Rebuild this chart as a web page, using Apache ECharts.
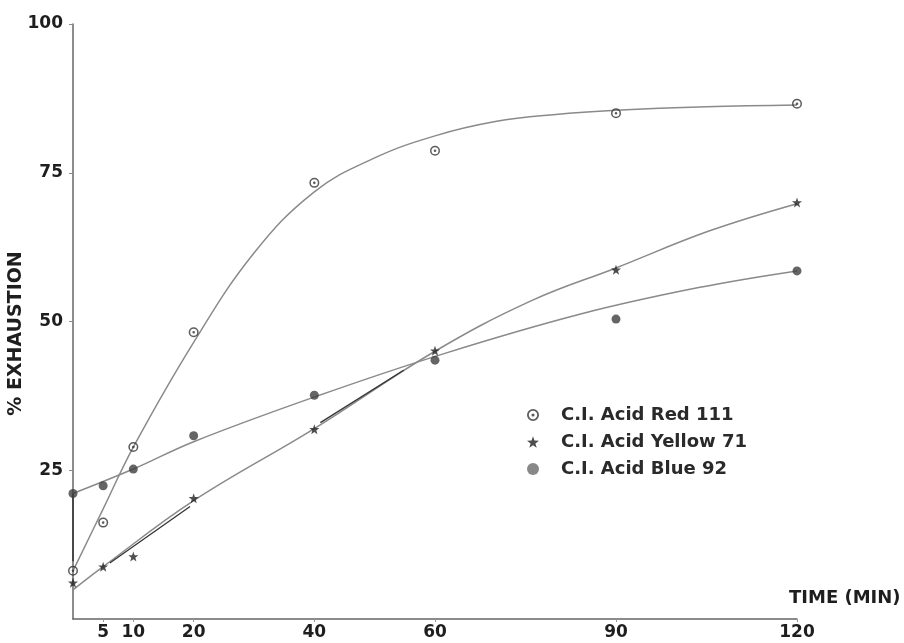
<!DOCTYPE html>
<html>
<head>
<meta charset="utf-8">
<script src="https://cdn.jsdelivr.net/npm/echarts@6/dist/echarts.min.js"></script>
<style>
html,body{margin:0;padding:0;background:#fff;}
#c{width:904px;height:643px;}
</style>
</head>
<body>
<div id="c"></div>
<script>
// ---- data ----
const xTickLabels = [5, 10, 20, 40, 60, 90, 120];
const yTickLabels = [25, 50, 75, 100];
const seriesNames = ['C.I. Acid Red 111', 'C.I. Acid Yellow 71', 'C.I. Acid Blue 92'];

// measured points [time (min), % exhaustion]
const redPoints    = [[0,8.1],[5,16.2],[10,28.9],[20,48.2],[40,73.3],[60,78.7],[90,85.0],[120,86.6]];
const yellowPoints = [[0,6.1],[5,8.8],[10,10.5],[20,20.3],[40,31.9],[60,45.1],[90,58.7],[120,70.0]];
const bluePoints   = [[0,21.1],[5,22.4],[10,25.2],[20,30.8],[40,37.6],[60,43.5],[90,50.4],[120,58.5]];

// hand-drawn fitted curves
const redCurve    = [[0,8.1],[5,18.5],[10,28.9],[20,46.5],[30,61.5],[40,71.8],[50,77.5],[60,81.2],[70,83.6],[80,84.8],[90,85.5],[105,86.1],[120,86.4]];
const yellowCurve = [[0,4.9],[5,8.8],[20,19.9],[40,32.0],[60,45.0],[76,53.5],[90,59.0],[105.4,65.2],[120,69.8]];
const blueCurve   = [[0,21.1],[10,25.2],[20,29.8],[40,37.3],[61.5,44.6],[84.3,51.3],[103.7,55.7],[120,58.5]];
const blueDrop    = [[0,9.7],[0,21.1]];
const yellowDark1 = [[6.1,9.4],[19.4,18.9]];
const yellowDark2 = [[41,33.0],[54.8,41.8]];

// ---- symbols ----
const ringDot = 'path://M0,-10 A10,10 0 1,1 0,10 A10,10 0 1,1 0,-10 Z M0,-7 A7,7 0 1,0 0,7 A7,7 0 1,0 0,-7 Z M0,-2.6 A2.6,2.6 0 1,1 0,2.6 A2.6,2.6 0 1,1 0,-2.6 Z';
const star = 'path://M0,-10 L2.35,-3.24 L9.51,-3.09 L3.80,1.24 L5.88,8.09 L0,4 L-5.88,8.09 L-3.80,1.24 L-9.51,-3.09 L-2.35,-3.24 Z';

const FONT = 'DejaVu Sans';
const TXT = '#1e1e1e';
const LINE = '#8a8a8a';

const chart = echarts.init(document.getElementById('c'), null, {renderer: 'canvas'});

function curve(data, color, width) {
  return {
    type: 'line', data: data, smooth: 0.4, showSymbol: false, symbol: 'none',
    silent: true, z: 2,
    lineStyle: {color: color, width: width}
  };
}

chart.setOption({
  animation: false,
  backgroundColor: '#fff',
  grid: {left: 73, right: 107, top: 24, bottom: 24, containLabel: false, outerBoundsMode: 'none'},
  xAxis: {
    type: 'value', min: 0, max: 120,
    name: 'TIME (MIN)', nameLocation: 'end', nameGap: -8,
    nameTextStyle: {fontFamily: FONT, fontWeight: 'bold', fontSize: 18, color: TXT,
      align: 'left', verticalAlign: 'bottom', padding: [0, 0, 12, 0]},
    axisLine: {show: true, lineStyle: {color: '#666', width: 1.5}},
    axisTick: {show: true, customValues: xTickLabels, length: 3, lineStyle: {color: '#999'}},
    axisLabel: {customValues: xTickLabels, fontFamily: FONT, fontWeight: 'bold', fontSize: 17, color: TXT, margin: 5},
    splitLine: {show: false}
  },
  yAxis: {
    type: 'value', min: 0, max: 100, interval: 25,
    name: '% EXHAUSTION', nameLocation: 'middle', nameRotate: 90, nameGap: 47, nameMoveOverlap: false,
    nameTextStyle: {fontFamily: FONT, fontWeight: 'bold', fontSize: 19, color: TXT, padding: [0, 24, 0, 0]},
    axisLine: {show: true, lineStyle: {color: '#666', width: 1.5}},
    axisTick: {show: true, customValues: yTickLabels, length: 4, lineStyle: {color: '#888'}},
    axisLabel: {customValues: yTickLabels, fontFamily: FONT, fontWeight: 'bold', fontSize: 17, color: TXT, margin: 10},
    splitLine: {show: false}
  },
  legend: {
    orient: 'vertical', left: 522, top: 401, itemGap: 9,
    itemWidth: 12, itemHeight: 12,
    textStyle: {fontFamily: FONT, fontWeight: 'bold', fontSize: 18, color: '#2a2a2a', padding: [0, 0, 0, 17]},
    data: [
      {name: seriesNames[0], icon: ringDot, itemStyle: {color: '#333'}},
      {name: seriesNames[1], icon: star, itemStyle: {color: '#222'}},
      {name: seriesNames[2], icon: 'circle', itemStyle: {color: '#6a6a6a'}}
    ]
  },
  series: [
    curve(redCurve, LINE, 1.5),
    curve(yellowCurve, LINE, 1.5),
    curve(blueCurve, LINE, 1.5),
    {type: 'line', data: blueDrop, showSymbol: false, symbol: 'none', silent: true, z: 2, lineStyle: {color: '#333', width: 1.5}},
    {type: 'line', data: yellowDark1, showSymbol: false, symbol: 'none', silent: true, z: 2, lineStyle: {color: '#333', width: 1.3}},
    {type: 'line', data: yellowDark2, showSymbol: false, symbol: 'none', silent: true, z: 2, lineStyle: {color: '#333', width: 1.3}},
    {name: seriesNames[0], type: 'scatter', data: redPoints, symbol: ringDot, symbolSize: 10, z: 5,
      itemStyle: {color: '#333'}},
    {name: seriesNames[1], type: 'scatter', data: yellowPoints, symbol: star, symbolSize: 10, z: 5,
      itemStyle: {color: '#222'}},
    {name: seriesNames[2], type: 'scatter', data: bluePoints, symbol: 'circle', symbolSize: 9, z: 5,
      itemStyle: {color: '#3e3e3e'}}
  ]
});
</script>
</body>
</html>
